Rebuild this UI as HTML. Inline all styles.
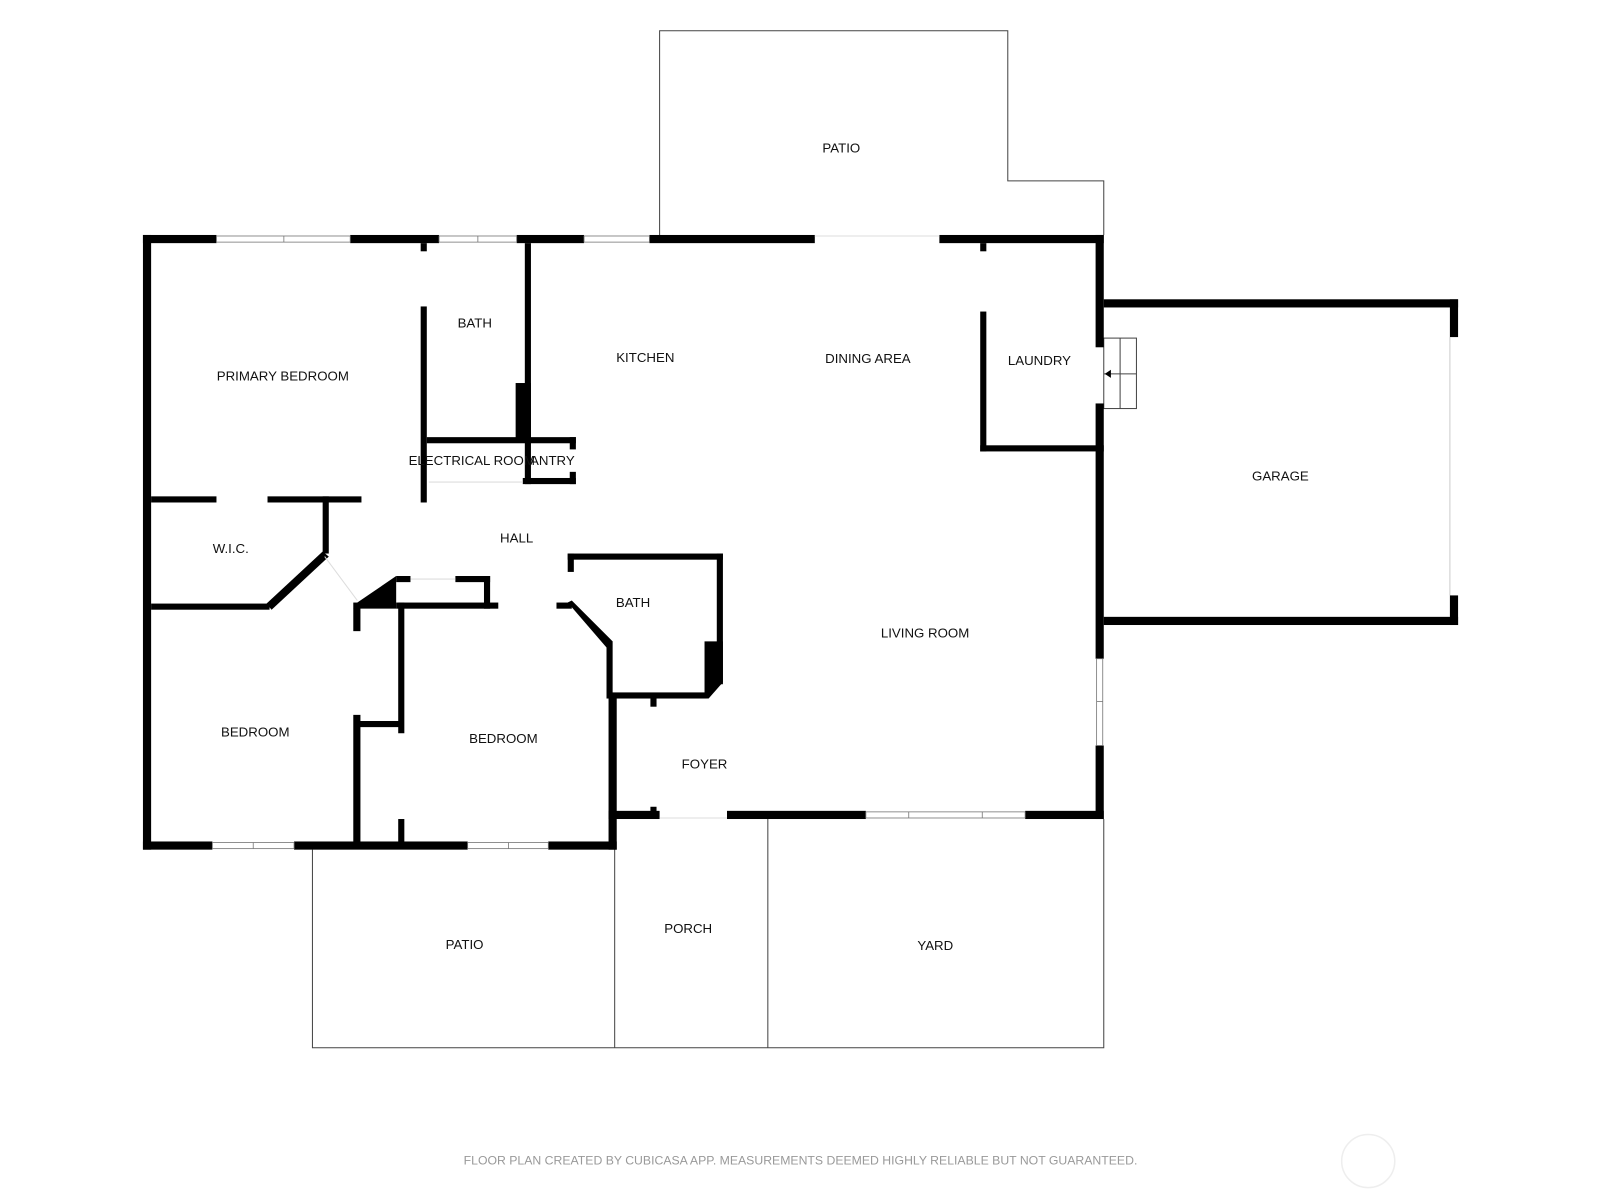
<!DOCTYPE html>
<html><head><meta charset="utf-8"><style>
html,body{margin:0;padding:0;background:#fff;}
svg{display:block}
text{font-family:"Liberation Sans",sans-serif;font-size:13px;fill:#111;text-anchor:middle;dominant-baseline:middle}
</style></head><body>
<svg width="1600" height="1200" viewBox="0 0 1567 1175" xmlns="http://www.w3.org/2000/svg">
<g fill="none" stroke="#444" stroke-width="1">
<polyline points="646,230 646,30 987,30 987,177 1081,177 1081,230"/>
<polyline points="306,832 306,1026 1081,1026 1081,802"/>
<line x1="602" y1="802" x2="602" y2="1026"/>
<line x1="752" y1="802" x2="752" y2="1026"/>
<rect x="1081" y="331" width="32" height="69"/>
<line x1="1097" y1="331" x2="1097" y2="400"/>
<line x1="1081" y1="366" x2="1113" y2="366"/>
</g>
<polygon points="1082,366 1088,362 1088,370" fill="#000"/>
<line x1="1420" y1="330" x2="1420" y2="583" stroke="#ccc"/>
<g fill="#000">
<rect x="140" y="230" width="72" height="8"/>
<rect x="343" y="230" width="87" height="8"/>
<rect x="506" y="230" width="66" height="8"/>
<rect x="636" y="230" width="162" height="8"/>
<rect x="920" y="230" width="161" height="8"/>
<rect x="140" y="230" width="8" height="602"/>
<rect x="140" y="824" width="68" height="8"/>
<rect x="288" y="824" width="170" height="8"/>
<rect x="537" y="824" width="67" height="8"/>
<rect x="596" y="680" width="8" height="152"/>
<rect x="1073" y="230" width="8" height="110"/>
<rect x="1073" y="395" width="8" height="250"/>
<rect x="1073" y="730" width="8" height="72"/>
<rect x="596" y="794" width="50" height="8"/>
<rect x="712" y="794" width="136" height="8"/>
<rect x="1004" y="794" width="77" height="8"/>
<rect x="412" y="238" width="6" height="8"/>
<rect x="412" y="300" width="6" height="192"/>
<rect x="514" y="238" width="6" height="236"/>
<rect x="505" y="375" width="15" height="55"/>
<rect x="418" y="428" width="146" height="6"/>
<rect x="512" y="468" width="52" height="6"/>
<rect x="558" y="428" width="6" height="12"/>
<rect x="558" y="462" width="6" height="12"/>
<rect x="148" y="486" width="64" height="6"/>
<rect x="262" y="486" width="92" height="6"/>
<rect x="316" y="486" width="6" height="56"/>
<polygon points="316,540 322,545 266,597 261,591"/>
<rect x="148" y="591" width="116" height="6"/>
<polygon points="350,590 388,564 388,596 346,596"/>
<rect x="346" y="590" width="7" height="28"/>
<rect x="346" y="700" width="7" height="126"/>
<rect x="350" y="706" width="44" height="6"/>
<rect x="390" y="590" width="6" height="128"/>
<rect x="390" y="802" width="6" height="24"/>
<rect x="388" y="564" width="14" height="6"/>
<rect x="446" y="564" width="34" height="6"/>
<rect x="474" y="564" width="6" height="32"/>
<rect x="388" y="590" width="100" height="6"/>
<rect x="545" y="590" width="15" height="6"/>
<polygon points="556,590 560,588 600,628 594,634"/>
<rect x="594" y="628" width="6" height="56"/>
<rect x="556" y="542" width="152" height="6"/>
<rect x="556" y="542" width="6" height="18"/>
<rect x="702" y="542" width="6" height="128"/>
<polygon points="690,628 708,628 708,668 694,684 690,684"/>
<rect x="596" y="678" width="96" height="6"/>
<rect x="637" y="680" width="6" height="12"/>
<rect x="637" y="790" width="6" height="10"/>
<rect x="960" y="238" width="6" height="8"/>
<rect x="960" y="305" width="6" height="137"/>
<rect x="960" y="436" width="121" height="6"/>
<rect x="1081" y="293" width="347" height="8"/>
<rect x="1420" y="293" width="8" height="37"/>
<rect x="1420" y="583" width="8" height="29"/>
<rect x="1081" y="604" width="347" height="8"/>
</g>
<g fill="#fff" stroke="#777" stroke-width="0.8">
<rect x="212" y="231" width="131" height="6"/><line x1="278" y1="231" x2="278" y2="237"/>
<rect x="430" y="231" width="76" height="6"/><line x1="468" y1="231" x2="468" y2="237"/>
<rect x="572" y="231" width="64" height="6"/>
<rect x="208" y="825" width="80" height="6"/><line x1="248" y1="825" x2="248" y2="831"/>
<rect x="458" y="825" width="79" height="6"/><line x1="498" y1="825" x2="498" y2="831"/>
<rect x="848" y="795" width="156" height="6"/><line x1="890" y1="795" x2="890" y2="801"/><line x1="962" y1="795" x2="962" y2="801"/>
<rect x="1074" y="645" width="6" height="85"/><line x1="1074" y1="687" x2="1080" y2="687"/>
</g>
<g stroke="#ddd" stroke-width="1">
<line x1="798" y1="231" x2="920" y2="231"/>
<line x1="420" y1="472" x2="512" y2="472"/>
<line x1="402" y1="567" x2="446" y2="567"/>
<line x1="646" y1="801" x2="712" y2="801"/>
<line x1="318" y1="545" x2="350" y2="588"/>
</g>
<text x="824" y="146">PATIO</text>
<text x="277" y="369">PRIMARY BEDROOM</text>
<text x="465" y="317">BATH</text>
<text x="632" y="351">KITCHEN</text>
<text x="850" y="352">DINING AREA</text>
<text x="1018" y="354">LAUNDRY</text>
<text x="1254" y="467">GARAGE</text>
<text x="462" y="452">ELECTRICAL ROOM</text>
<text x="541" y="452">ANTRY</text>
<text x="226" y="538">W.I.C.</text>
<text x="506" y="528">HALL</text>
<text x="620" y="591">BATH</text>
<text x="906" y="621">LIVING ROOM</text>
<text x="250" y="718">BEDROOM</text>
<text x="493" y="724">BEDROOM</text>
<text x="690" y="749">FOYER</text>
<text x="455" y="926">PATIO</text>
<text x="674" y="910">PORCH</text>
<text x="916" y="927">YARD</text>
<text x="784" y="1137" style="font-size:12px;fill:#999">FLOOR PLAN CREATED BY CUBICASA APP. MEASUREMENTS DEEMED HIGHLY RELIABLE BUT NOT GUARANTEED.</text>
<circle cx="1340" cy="1137" r="26" fill="none" stroke="#eee" stroke-width="1.5"/>
</svg>
</body></html>
